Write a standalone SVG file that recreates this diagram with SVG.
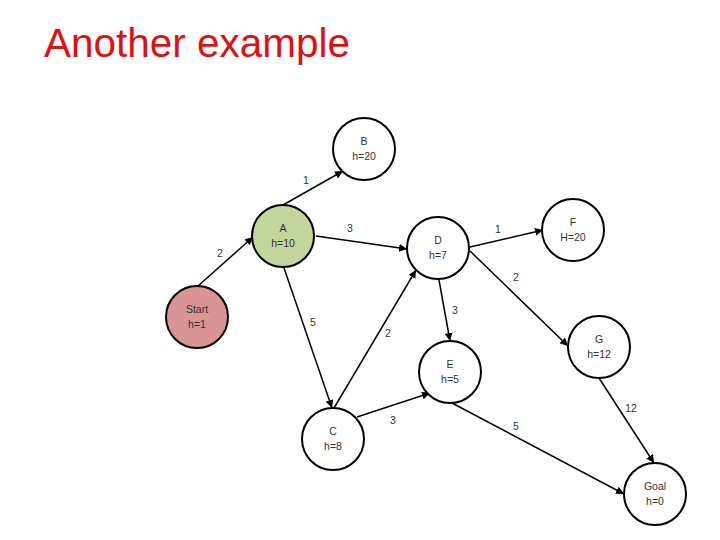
<svg xmlns="http://www.w3.org/2000/svg" width="720" height="540" viewBox="0 0 720 540">
<style>
.node circle{stroke:#000;stroke-width:2;fill:#fff}
.node text,.lbl{font-family:"Liberation Sans",Arial,sans-serif;font-size:10.5px;fill:#333;text-anchor:middle}
.edges line{stroke:#000;stroke-width:1.5;marker-end:url(#arr)}
.title{font-family:"Liberation Sans",Arial,sans-serif;font-size:40px;fill:#e01010}
</style>
<defs>
<marker id="arr" viewBox="0 0 10 10" refX="10" refY="5" markerWidth="8" markerHeight="8" markerUnits="userSpaceOnUse" orient="auto">
<path d="M0,0 L10,5 L0,10 z" fill="#000"/>
</marker>
</defs>
<rect width="720" height="540" fill="#fff"/>
<text class="title" x="44" y="57" textLength="306" lengthAdjust="spacingAndGlyphs">Another example</text>
<g class="edges">
<line x1="198" y1="286" x2="253" y2="237"/>
<line x1="283" y1="205" x2="343" y2="171"/>
<line x1="316" y1="236" x2="407" y2="249"/>
<line x1="284" y1="268" x2="332" y2="408"/>
<line x1="334" y1="408" x2="416" y2="270"/>
<line x1="470" y1="247" x2="543" y2="230"/>
<line x1="470" y1="251" x2="568" y2="346"/>
<line x1="439" y1="280" x2="450" y2="341"/>
<line x1="357" y1="417" x2="430" y2="393"/>
<line x1="452" y1="403" x2="624" y2="494"/>
<line x1="599" y1="378" x2="654" y2="463"/>
<text class="lbl" x="220" y="257">2</text>
<text class="lbl" x="306" y="184">1</text>
<text class="lbl" x="350" y="232">3</text>
<text class="lbl" x="313" y="326">5</text>
<text class="lbl" x="388" y="337">2</text>
<text class="lbl" x="498" y="233">1</text>
<text class="lbl" x="516" y="281">2</text>
<text class="lbl" x="455" y="314">3</text>
<text class="lbl" x="393" y="424">3</text>
<text class="lbl" x="516" y="430">5</text>
<text class="lbl" x="631" y="412">12</text>
</g>
<g id="B" class="node"><circle cx="364" cy="149" r="31"/><text x="364" y="145">B</text><text x="364" y="160">h=20</text></g>
<g id="A" class="node"><circle cx="283" cy="236" r="31" style="fill:#c3d69b"/><text x="283" y="232">A</text><text x="283" y="247">h=10</text></g>
<g id="Start" class="node"><circle cx="197" cy="317" r="31" style="fill:#d99594"/><text x="197" y="313">Start</text><text x="197" y="328">h=1</text></g>
<g id="D" class="node"><circle cx="438" cy="248" r="31"/><text x="438" y="244">D</text><text x="438" y="259">h=7</text></g>
<g id="F" class="node"><circle cx="573" cy="230" r="31"/><text x="573" y="226">F</text><text x="573" y="241">H=20</text></g>
<g id="G" class="node"><circle cx="599" cy="347" r="31"/><text x="599" y="343">G</text><text x="599" y="358">h=12</text></g>
<g id="E" class="node"><circle cx="450" cy="372" r="31"/><text x="450" y="368">E</text><text x="450" y="383">h=5</text></g>
<g id="C" class="node"><circle cx="333" cy="439" r="31"/><text x="333" y="435">C</text><text x="333" y="450">h=8</text></g>
<g id="Goal" class="node"><circle cx="655" cy="494" r="31"/><text x="655" y="490">Goal</text><text x="655" y="505">h=0</text></g>
</svg>
